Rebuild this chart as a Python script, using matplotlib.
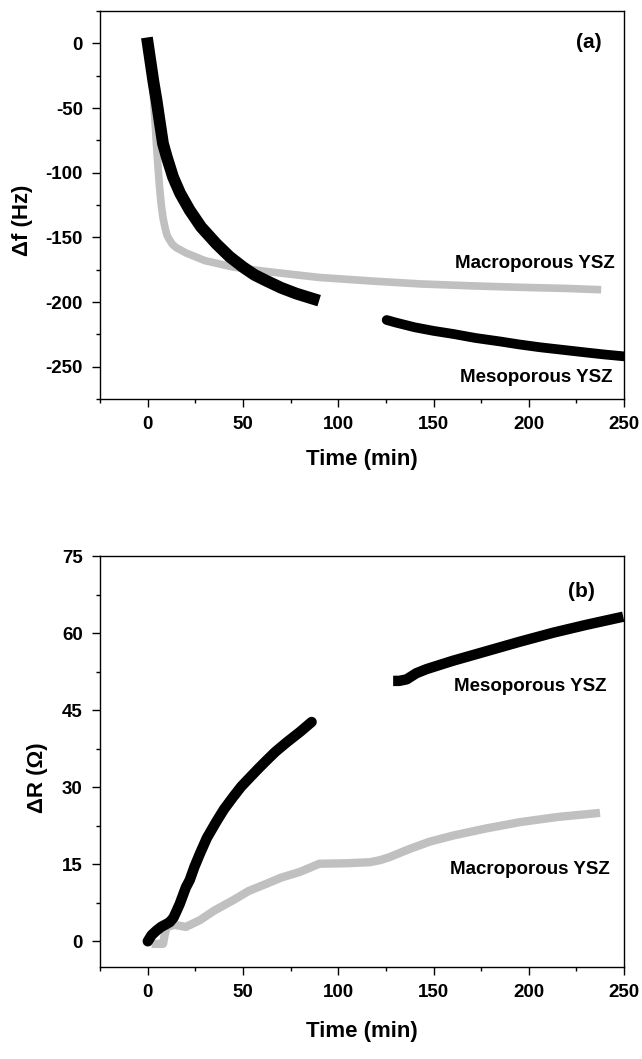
import numpy as np
import matplotlib
matplotlib.use('Agg')
import matplotlib.pyplot as plt
from matplotlib.ticker import MultipleLocator

plt.rcParams['font.family'] = ['Liberation Sans', 'DejaVu Sans']
plt.rcParams['font.weight'] = 'bold'
plt.rcParams['axes.unicode_minus'] = False

# (a) frequency shift, macroporous YSZ
t_f_macro = [0, 1, 2, 3, 4, 5, 6, 7, 8, 9, 10, 11, 13, 15, 20, 30, 45, 60, 90, 120, 143, 170, 195, 220, 238]
f_macro = [0, -10, -22, -42, -65, -88, -108, -124, -135, -142, -148, -151, -155.5, -158, -162, -168,
           -173, -176, -181, -184, -186, -187.5, -188.6, -189.5, -190.5]

# (a) frequency shift, mesoporous YSZ (two segments)
t_f_meso1 = [0, 1, 2, 3, 4.6, 6, 8, 10, 13.3, 17, 22, 28, 36, 43, 50, 56, 62, 70, 78, 87]
f_meso1 = [0, -10, -20, -30, -44, -58, -77.6, -88, -103.5, -116, -129, -142, -155, -165, -173, -179,
           -183.4, -189, -193.5, -197.6]
t_f_meso2 = [125.4, 130, 140, 150, 160.4, 172, 185, 195, 206, 218, 230, 240, 250]
f_meso2 = [-213.9, -215.8, -219.5, -222.3, -224.7, -227.8, -230.5, -232.8, -235, -237, -239, -240.6, -242]

# (b) resistance change, macroporous YSZ
t_r_macro = [2, 8, 9, 10, 14, 20, 27.3, 35, 44.8, 53, 62.3, 70, 79.8, 85, 90, 105, 116.6, 122, 127,
             137.6, 148, 160.4, 178, 195.4, 215, 237.4]
r_macro = [-0.5, -0.5, 1.5, 2.8, 3.2, 2.8, 4.1, 6.0, 8.0, 9.8, 11.2, 12.4, 13.5, 14.3, 15.1, 15.2,
           15.4, 15.8, 16.4, 18.0, 19.4, 20.6, 22.0, 23.2, 24.2, 25.0]

# (b) resistance change, mesoporous YSZ (two segments)
t_r_meso1 = [0, 2, 4.6, 7, 9.5, 11.6, 13.5, 15, 16.8, 18.5, 20, 22, 24.5, 27.3, 31, 36, 40, 44.8,
             49, 53.6, 58, 62.3, 67, 72.8, 80, 86]
r_meso1 = [0, 1.2, 2.1, 2.8, 3.3, 3.75, 4.6, 5.8, 7.3, 9.0, 10.5, 11.9, 14.5, 17, 20.1, 23.3, 25.7,
           28.1, 30.1, 31.9, 33.6, 35.2, 36.9, 38.7, 40.8, 42.7]
t_r_meso2 = [128.8, 132, 135.9, 141, 146.4, 160, 178, 195, 213, 230, 249.6]
r_meso2 = [50.7, 50.7, 51.0, 52.2, 53.0, 54.6, 56.5, 58.3, 60.1, 61.6, 63.2]

gray = '#c0c0c0'

fig = plt.figure(figsize=(6.42, 10.59), dpi=100)
ax1 = fig.add_axes([0.156, 0.6232, 0.816, 0.3664])
ax2 = fig.add_axes([0.156, 0.0869, 0.816, 0.388])

ax1.plot(t_f_macro, f_macro, color=gray, lw=5.5, solid_capstyle='butt', solid_joinstyle='round')
ax1.plot(t_f_meso1, f_meso1, color='black', lw=8.5, solid_capstyle='projecting', solid_joinstyle='round')
ax1.plot(t_f_meso2, f_meso2, color='black', lw=7, solid_capstyle='round')

ax2.plot(t_r_macro, r_macro, color=gray, lw=6, solid_capstyle='butt', solid_joinstyle='round')
ax2.plot(t_r_meso1, r_meso1, color='black', lw=7.5, solid_capstyle='round', solid_joinstyle='round')
ax2.plot(t_r_meso2, r_meso2, color='black', lw=7.5, solid_capstyle='butt', solid_joinstyle='round')

ax1.set_xlim(-25, 250)
ax1.set_ylim(-275, 25)
ax1.yaxis.set_major_locator(MultipleLocator(50))
ax1.yaxis.set_minor_locator(MultipleLocator(25))
ax1.set_ylabel('Δf (Hz)', fontsize=16, fontweight='bold')
ax1.yaxis.set_label_coords(-0.128, 0.461)
ax1.xaxis.set_label_coords(0.5, -0.129)

ax2.set_xlim(-25, 250)
ax2.set_ylim(-5, 75)
ax2.yaxis.set_major_locator(MultipleLocator(15))
ax2.yaxis.set_minor_locator(MultipleLocator(7.5))
ax2.set_ylabel('ΔR (Ω)', fontsize=16, fontweight='bold')
ax2.yaxis.set_label_coords(-0.099, 0.46)
ax2.xaxis.set_label_coords(0.5, -0.131)

for ax in (ax1, ax2):
    ax.xaxis.set_major_locator(MultipleLocator(50))
    ax.xaxis.set_minor_locator(MultipleLocator(25))
    ax.set_xlabel('Time (min)', fontsize=16, fontweight='bold')
    ax.tick_params(which='both', direction='out', top=False, right=False, labelsize=13.5, width=1)
    ax.tick_params(which='major', length=5.5, pad=7)
    ax.tick_params(which='minor', length=3)
    for lab in ax.get_xticklabels() + ax.get_yticklabels():
        lab.set_fontweight('bold')
    for sp in ax.spines.values():
        sp.set_linewidth(1.0)

ax1.text(238.4, 0.8, '(a)', fontsize=15, fontweight='bold', ha='right', va='center')
ax1.text(245.3, -170.3, 'Macroporous YSZ', fontsize=13.5, fontweight='bold', ha='right', va='center')
ax1.text(244, -258.3, 'Mesoporous YSZ', fontsize=13.5, fontweight='bold', ha='right', va='center')

ax2.text(234.8, 68.2, '(b)', fontsize=15, fontweight='bold', ha='right', va='center')
ax2.text(241, 49.6, 'Mesoporous YSZ', fontsize=13.5, fontweight='bold', ha='right', va='center')
ax2.text(242.6, 14, 'Macroporous YSZ', fontsize=13.5, fontweight='bold', ha='right', va='center')

fig.savefig('out.png', dpi=100)
